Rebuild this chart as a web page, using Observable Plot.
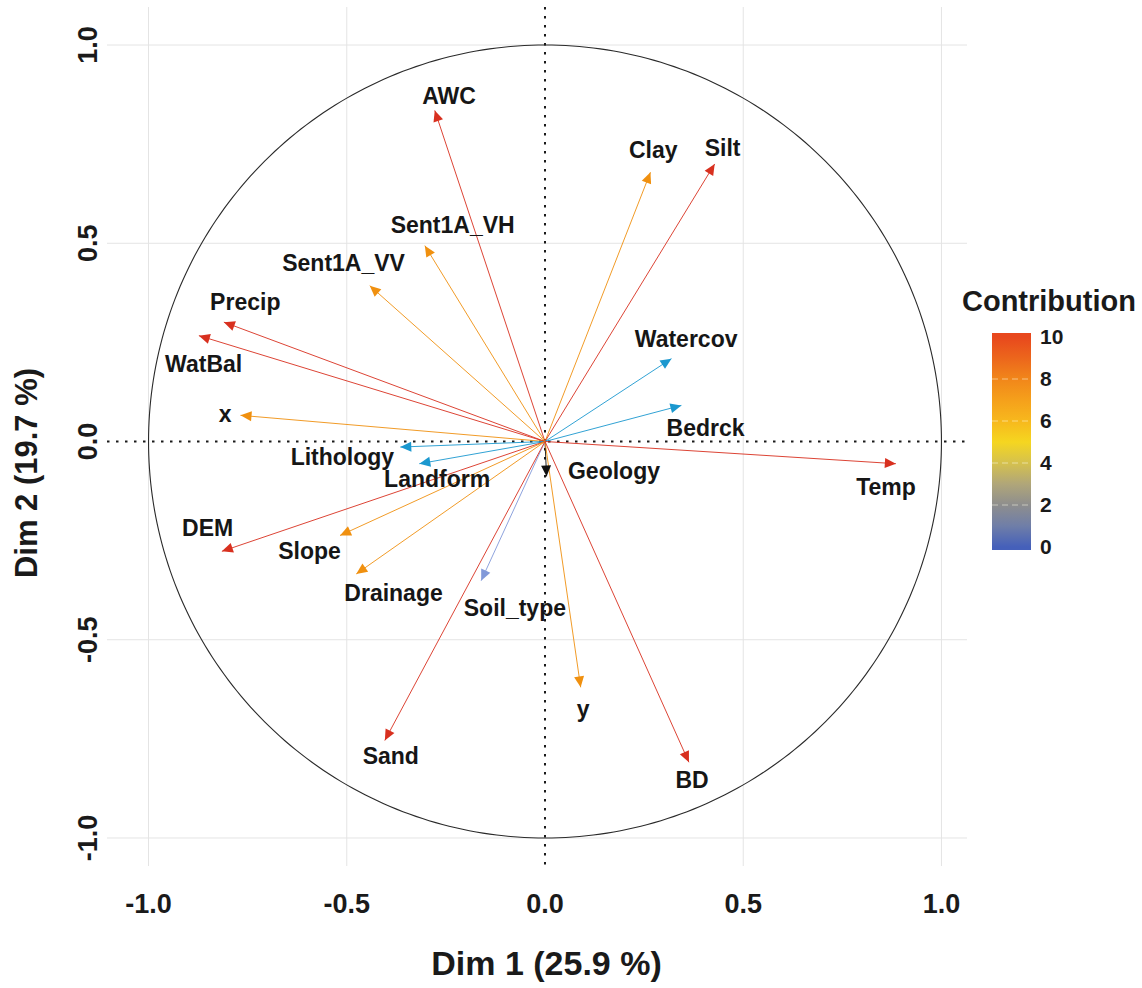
<!DOCTYPE html>
<html>
<head>
<meta charset="utf-8">
<script src="https://cdn.jsdelivr.net/npm/d3@7"></script>
<script src="https://cdn.jsdelivr.net/npm/@observablehq/plot@0.6"></script>
<style>
  body { margin: 0; background: #fff; }
  #wrap { position: relative; width: 1142px; height: 988px; font-family: "Liberation Sans", Arial, sans-serif; }
  #legend { position: absolute; left: 950px; top: 270px; }
</style>
</head>
<body>
<div id="wrap"></div>
<script>
// ---- Data ----
const variables = ["AWC","Clay","Silt","Sent1A_VH","Sent1A_VV","Precip","WatBal","x","Watercov","Bedrck","Temp","Lithology","Landform","Geology","DEM","Slope","Drainage","Soil_type","Sand","y","BD"];
const dim1 = [-0.278, 0.266, 0.428, -0.303, -0.442, -0.810, -0.873, -0.768, 0.319, 0.344, 0.885, -0.365, -0.317, 0.004, -0.815, -0.517, -0.476, -0.161, -0.404, 0.090, 0.363];
const dim2 = [0.835, 0.679, 0.700, 0.494, 0.393, 0.301, 0.267, 0.066, 0.209, 0.091, -0.056, -0.014, -0.056, -0.088, -0.277, -0.237, -0.334, -0.351, -0.754, -0.620, -0.809];
// repelled label anchors (data units)
const labelX = [-0.242, 0.273, 0.448, -0.233, -0.508, -0.756, -0.861, -0.807, 0.356, 0.405, 0.860, -0.511, -0.272, 0.174, -0.851, -0.594, -0.382, -0.076, -0.389, 0.096, 0.371];
const labelY = [0.870, 0.734, 0.738, 0.545, 0.448, 0.351, 0.193, 0.069, 0.256, 0.032, -0.117, -0.041, -0.097, -0.077, -0.220, -0.277, -0.384, -0.422, -0.796, -0.676, -0.855];
// estimated contribution (drives arrow colour class)
const contrib = [9.6, 7.4, 9.3, 7.0, 7.2, 9.7, 9.9, 7.5, 2.6, 2.4, 10.1, 2.5, 2.3, 0.1, 9.8, 6.9, 7.1, 1.3, 9.4, 6.8, 9.5];
const axisTicks = [-1, -0.5, 0, 0.5, 1];
const gridTicks = [-1, -0.5, 0.5, 1];
const legendTicks = [0, 2, 4, 6, 8, 10];
const xTitle = "Dim 1 (25.9 %)";
const yTitle = "Dim 2 (19.7 %)";
const legendTitle = "Contribution";

const FONT = '"Liberation Sans", Arial, Helvetica, sans-serif';
const data = variables.map((name, i) => ({name, x: dim1[i], y: dim2[i], lx: labelX[i], ly: labelY[i], contrib: contrib[i]}));
const circle = d3.range(0, 361, 1).map(a => ({x: Math.cos(a * Math.PI / 180), y: Math.sin(a * Math.PI / 180)}));

const chart = Plot.plot({
  width: 1142,
  height: 988,
  marginLeft: 107,
  marginRight: 175,
  marginTop: 7,
  marginBottom: 122,
  x: {domain: [-1.1035, 1.0657]},
  y: {domain: [-1.0719, 1.0946]},
  color: {type: "threshold", domain: [0.5, 2, 5, 8.5], range: ["#111111", "#8299d9", "#1b98cf", "#f0900f", "#d8301f"]},
  style: {fontFamily: FONT, background: "#ffffff", color: "#1a1a1a", overflow: "visible"},
  marks: [
    Plot.ruleX(gridTicks, {stroke: "#e4e4e4", strokeWidth: 1}),
    Plot.ruleY(gridTicks, {stroke: "#e4e4e4", strokeWidth: 1}),
    Plot.line(circle, {x: "x", y: "y", stroke: "#2a2a2a", strokeWidth: 1.1}),
    Plot.ruleX([0], {stroke: "#1a1a1a", strokeWidth: 2, strokeDasharray: "2.5,6.5"}),
    Plot.ruleY([0], {stroke: "#1a1a1a", strokeWidth: 2, strokeDasharray: "2.5,6.5"}),
    Plot.link(data, {x1: d => 0, y1: d => 0, x2: "x", y2: "y", stroke: "contrib", strokeWidth: 1, strokeOpacity: 0.9}),
    Plot.vector(data, {x: "x", y: "y", rotate: d => Math.atan2(d.x, d.y) * 180 / Math.PI, length: 11, r: 5, shape: "spike", anchor: "end", fill: "contrib", stroke: "none"}),
    Plot.text(data, {x: "lx", y: "ly", text: "name", fontSize: 23, fontWeight: "bold", fill: "#161616", textAnchor: "middle", lineAnchor: "middle"}),
    Plot.axisX(axisTicks, {tickSize: 0, tickPadding: 27, fontSize: 27, fontWeight: "bold", tickFormat: d => d.toFixed(1), label: null, fill: "#1a1a1a"}),
    Plot.axisY(axisTicks, {tickSize: 0, tickPadding: 11, tickRotate: -90, fontSize: 27, fontWeight: "bold", tickFormat: d => d.toFixed(1), label: null, fill: "#1a1a1a"}),
    Plot.text([xTitle], {frameAnchor: "bottom", dx: 9, dy: 98, fontSize: 34, fontWeight: "bold", fill: "#1a1a1a", textAnchor: "middle", lineAnchor: "middle"}),
    Plot.text([yTitle], {frameAnchor: "left", dx: -80, dy: 36, rotate: -90, fontSize: 31, fontWeight: "bold", fill: "#1a1a1a", textAnchor: "middle", lineAnchor: "middle"})
  ]
});

const wrap = document.getElementById("wrap");
wrap.appendChild(chart);

// ---- Legend (colour bar) ----
const barTop = 63, barH = 217, barX = 42, barW = 39;
const legScale = d3.scaleLinear().domain([0, 10]).range([277, 67]);
const stops = [
  [10, "#e8481d"], [9, "#ec661c"], [8, "#f1861a"], [7, "#f5a01b"], [6, "#f7b81d"], [5, "#f5d620"],
  [4, "#d5c14e"], [3, "#b0a679"], [2, "#8e8e8e"], [1, "#6f7ea8"], [0, "#4560ba"]
];
const leg = d3.create("svg").attr("id", "legend").attr("width", 192).attr("height", 300)
  .style("font-family", FONT);
const grad = leg.append("defs").append("linearGradient").attr("id", "contribGradient")
  .attr("x1", 0).attr("y1", 0).attr("x2", 0).attr("y2", 1);
for (const [v, c] of stops) {
  grad.append("stop").attr("offset", ((legScale(v) - barTop) / barH * 100).toFixed(2) + "%").attr("stop-color", c);
}
leg.append("text").attr("x", 12).attr("y", 41).attr("font-size", 29).attr("font-weight", "bold").attr("fill", "#1a1a1a").text(legendTitle);
leg.append("rect").attr("x", barX).attr("y", barTop).attr("width", barW).attr("height", barH).attr("fill", "url(#contribGradient)");
for (const t of legendTicks) {
  if (t > 0 && t < 10) {
    leg.append("line").attr("x1", barX).attr("x2", barX + barW).attr("y1", legScale(t)).attr("y2", legScale(t))
      .attr("stroke", "rgba(255,255,235,0.5)").attr("stroke-width", 1.2).attr("stroke-dasharray", "6,4");
  }
  leg.append("text").attr("x", 90).attr("y", legScale(t)).attr("dy", "0.35em").attr("font-size", 21)
    .attr("font-weight", "bold").attr("fill", "#1a1a1a").text(t);
}
wrap.appendChild(leg.node());
</script>
</body>
</html>
